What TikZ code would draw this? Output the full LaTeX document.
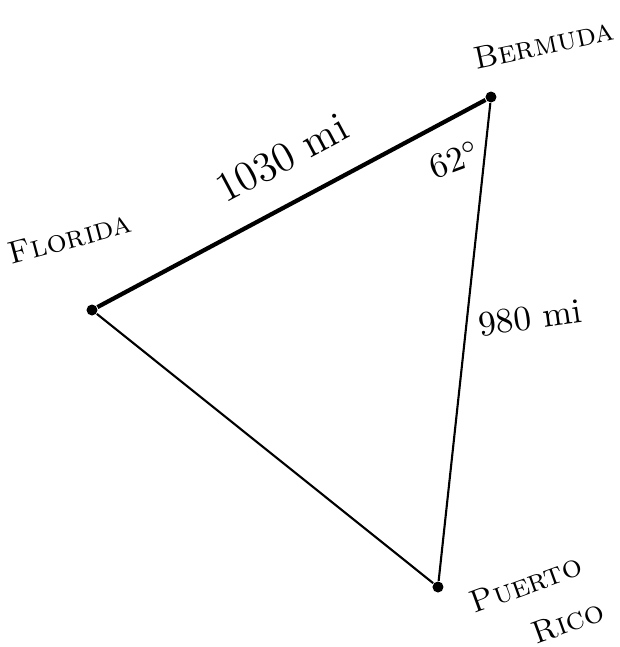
\documentclass[tikz,border=0pt]{standalone}
\usepackage{tikz}
\usetikzlibrary{positioning, calc}
\tikzset{
  place/.style={circle, fill=black, inner sep=0pt, minimum size=0.11cm},
  placelabel/.style={font=\small\scshape, inner sep=1pt},
  distlabel/.style={font=\large, inner sep=1pt},
  edge/.style={draw=black, semithick},
  heavyedge/.style={draw=black, very thick},
}
\begin{document}
\begin{tikzpicture}[x=0.01cm, y=-0.01cm]
  \useasboundingbox (0,0) rectangle (620,647);

  % --- the three places ---
  \node[place] (florida) at (92,310) {};
  \node[place] (bermuda) at (491,97) {};
  \node[place] (puertorico) at (438,587) {};

  % --- names of the places ---
  \node[placelabel, rotate=15] (floridalab) at (70,238) {Florida};
  \node[placelabel, rotate=12] (bermudalab) at (544,44) {Bermuda};
  \node[placelabel, rotate=20] (puertolab) at (526,584) {Puerto};
  \node[placelabel, rotate=20] (ricolab) at (568,622) {Rico};

  % --- sides of the triangle ---
  \draw[heavyedge] (florida) -- (bermuda);
  \draw[edge] (bermuda) -- (puertorico);
  \draw[edge] (puertorico) -- (florida);

  % --- distances and angle ---
  \node[distlabel, rotate=28] (dist1) at (282,158) {1030 mi};
  \node[font=\normalsize, rotate=8, inner sep=1pt] (dist2) at (530,318) {980 mi};
  \node[font=\normalsize, rotate=20] (angle) at (455,160) {62$^\circ$};
\end{tikzpicture}
\end{document}
